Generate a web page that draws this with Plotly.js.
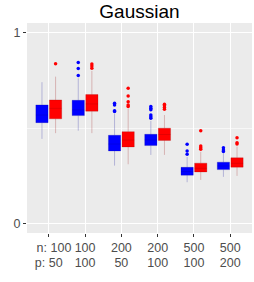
<!DOCTYPE html>
<html>
<head>
<meta charset="utf-8">
<script src="https://cdn.plot.ly/plotly-3.0.1.min.js"></script>
<style>html,body{margin:0;padding:0;background:#fff;}#chart{width:254px;height:282px;}</style>
</head>
<body>
<div id="chart"></div>
<script>
// Settings (n, p)
var nVals = [100, 100, 200, 200, 500, 500];
var pVals = [50, 100, 50, 100, 100, 200];
var positions = [0, 1, 2, 3, 4, 5];

// Blue series box statistics
var blueQ1     = [0.528, 0.565, 0.380, 0.408, 0.253, 0.282];
var blueMedian = [0.568, 0.595, 0.416, 0.437, 0.272, 0.301];
var blueQ3     = [0.621, 0.645, 0.462, 0.467, 0.294, 0.321];
var blueLow    = [0.443, 0.486, 0.303, 0.359, 0.216, 0.244];
var blueHigh   = [0.740, 0.760, 0.574, 0.537, 0.348, 0.367];
var blueOutliers = [
  [],
  [0.843, 0.812, 0.775],
  [0.630, 0.621, 0.591, 0.586],
  [0.612, 0.603, 0.595, 0.568, 0.559, 0.551],
  [0.415, 0.380, 0.362],
  [0.397, 0.385, 0.377]
];

// Red series box statistics
var redQ1     = [0.548, 0.588, 0.401, 0.435, 0.270, 0.295];
var redMedian = [0.603, 0.626, 0.437, 0.466, 0.289, 0.315];
var redQ3     = [0.647, 0.675, 0.481, 0.499, 0.316, 0.344];
var redLow    = [0.473, 0.473, 0.310, 0.359, 0.228, 0.249];
var redHigh   = [0.769, 0.799, 0.600, 0.568, 0.375, 0.403];
var redOutliers = [
  [0.836],
  [0.835, 0.825, 0.813],
  [0.708, 0.668, 0.638, 0.621, 0.612],
  [0.624, 0.616, 0.607, 0.598],
  [0.486, 0.406, 0.397, 0.389],
  [0.449, 0.423, 0.416]
];

var yTickVals = [0, 1];
var yTickText = ['0', '1'];

var NB = '\u00a0';
var xTickTextN = nVals.map(function (n, i) {
  return i === 0 ? (NB + NB + NB + 'n: ' + n) : String(n);
});
var xTickTextP = pVals.map(function (p, i) {
  return i === 0 ? ('p: ' + p) : String(p);
});

var dodge = 0.1875;

function boxTrace(q1, med, q3, lo, hi, fill, line) {
  return {
    type: 'box', x: positions, q1: q1, median: med, q3: q3,
    lowerfence: lo, upperfence: hi,
    fillcolor: fill, line: {color: line, width: 1},
    whiskerwidth: 0, boxpoints: false, hoverinfo: 'skip', showlegend: false
  };
}
function outlierTrace(outs, shift, color) {
  var xs = [], ys = [];
  outs.forEach(function (arr, i) {
    arr.forEach(function (v) { xs.push(positions[i] + shift); ys.push(v); });
  });
  return {
    type: 'scatter', mode: 'markers', x: xs, y: ys,
    marker: {color: color, size: 3.5, line: {width: 0}},
    hoverinfo: 'skip', showlegend: false
  };
}

var data = [
  boxTrace(blueQ1, blueMedian, blueQ3, blueLow, blueHigh, '#0000FF', 'rgba(0,0,150,0.24)'),
  boxTrace(redQ1, redMedian, redQ3, redLow, redHigh, '#FF0000', 'rgba(150,0,0,0.24)'),
  outlierTrace(blueOutliers, -dodge, '#0000FF'),
  outlierTrace(redOutliers, dodge, '#FF0000'),
  // invisible helper so the second (p) axis row is drawn
  {type: 'scatter', mode: 'markers', x: [positions[0]], y: [0], xaxis: 'x2', marker: {opacity: 0}, hoverinfo: 'skip', showlegend: false}
];

var axisFont = {size: 12.5, color: '#4D4D4D'};

var layout = {
  width: 254, height: 282,
  margin: {l: 27, r: 2, t: 23, b: 49},
  paper_bgcolor: '#FFFFFF', plot_bgcolor: '#EBEBEB',
  font: {family: '"Liberation Sans", Arial, sans-serif', size: 12.5, color: '#4D4D4D'},
  title: {text: 'Gaussian', font: {size: 19, color: '#000000'}, x: 0.549, xanchor: 'center', y: 0.961, yanchor: 'middle', yref: 'container'},
  boxmode: 'group', boxgap: 0.25, boxgroupgap: 0.1,
  xaxis: {
    type: 'linear', range: [-0.6, 5.6],
    tickmode: 'array', tickvals: positions, ticktext: xTickTextN,
    showgrid: true, gridcolor: '#FFFFFF', gridwidth: 1.07,
    zeroline: false, showline: false,
    ticks: 'outside', ticklen: 3, tickwidth: 1, tickcolor: '#333333',
    tickfont: axisFont
  },
  xaxis2: {
    type: 'linear', range: [-0.6, 5.6], overlaying: 'x', anchor: 'y', side: 'bottom',
    tickmode: 'array', tickvals: positions, ticktext: xTickTextP,
    showgrid: false, zeroline: false, showline: false,
    ticks: 'outside', ticklen: 17.5, tickwidth: 1, tickcolor: 'rgba(0,0,0,0)',
    tickfont: axisFont
  },
  yaxis: {
    range: [-0.05, 1.05],
    tickmode: 'array', tickvals: yTickVals, ticktext: yTickText,
    showgrid: true, gridcolor: '#FFFFFF', gridwidth: 1.07,
    minor: {tickmode: 'array', tickvals: [0.5], showgrid: true, gridcolor: '#FFFFFF', gridwidth: 0.6, ticks: ''},
    zeroline: false, showline: false,
    ticks: 'outside', ticklen: 3, tickwidth: 1, tickcolor: '#333333',
    tickfont: axisFont
  }
};

Plotly.newPlot('chart', data, layout, {staticPlot: true, displayModeBar: false});
</script>
</body>
</html>
